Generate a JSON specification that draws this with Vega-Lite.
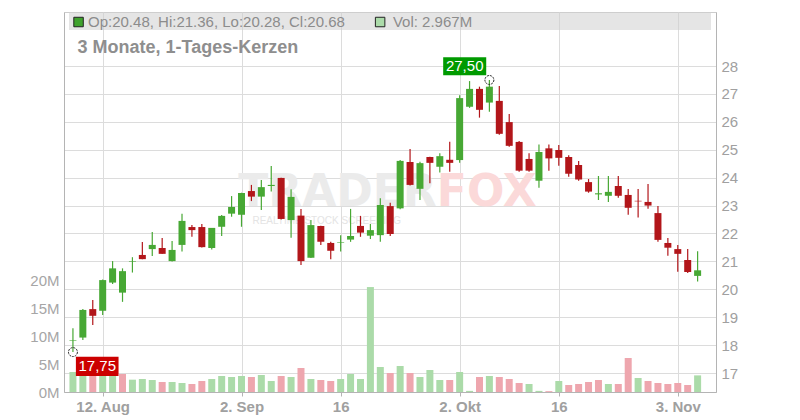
{
  "$schema": "https://vega.github.io/schema/vega-lite/v6.json",
  "width": 652,
  "height": 380,
  "autosize": {"type": "none"},
  "padding": {"left": 64, "top": 12, "right": 84, "bottom": 28},
  "background": "white",
  "config": {
    "font": "Liberation Sans",
    "view": {"stroke": "#cccccc"},
    "axis": {"gridColor": "#dcdcdc", "domainColor": "#b4b4b4", "tickColor": "#b4b4b4", "labelFont": "Liberation Sans"},
    "axisRight": {"labelOverlap": false, "labelFontSize": 15, "labelColor": "#a0a0a0", "labelPadding": 5, "ticks": false},
    "axisLeft": {"labelOverlap": false}
  },
  "data": {"values": [
    {"date": "2025-08-07", "i": 0, "o": 18.15, "h": 18.60, "l": 17.75, "c": 18.17, "v": 3570000},
    {"date": "2025-08-08", "i": 1, "o": 18.27, "h": 19.29, "l": 18.18, "c": 19.26, "v": 3600000},
    {"date": "2025-08-11", "i": 2, "o": 19.29, "h": 19.62, "l": 18.72, "c": 19.05, "v": 3600000},
    {"date": "2025-08-12", "i": 3, "o": 19.23, "h": 20.35, "l": 19.08, "c": 20.33, "v": 3600000},
    {"date": "2025-08-13", "i": 4, "o": 20.24, "h": 21.01, "l": 20.19, "c": 20.75, "v": 3600000},
    {"date": "2025-08-14", "i": 5, "o": 19.88, "h": 20.75, "l": 19.55, "c": 20.65, "v": 3210000},
    {"date": "2025-08-15", "i": 6, "o": 20.98, "h": 21.15, "l": 20.60, "c": 21.00, "v": 2200000},
    {"date": "2025-08-18", "i": 7, "o": 21.23, "h": 21.69, "l": 21.08, "c": 21.08, "v": 2320000},
    {"date": "2025-08-19", "i": 8, "o": 21.44, "h": 22.05, "l": 21.19, "c": 21.59, "v": 2140000},
    {"date": "2025-08-20", "i": 9, "o": 21.48, "h": 21.84, "l": 21.27, "c": 21.27, "v": 1790000},
    {"date": "2025-08-21", "i": 10, "o": 21.01, "h": 21.73, "l": 21.00, "c": 21.41, "v": 1790000},
    {"date": "2025-08-22", "i": 11, "o": 21.59, "h": 22.71, "l": 21.35, "c": 22.45, "v": 1610000},
    {"date": "2025-08-25", "i": 12, "o": 22.23, "h": 22.30, "l": 21.88, "c": 22.12, "v": 1430000},
    {"date": "2025-08-26", "i": 13, "o": 22.23, "h": 22.34, "l": 21.50, "c": 21.51, "v": 1960000},
    {"date": "2025-08-27", "i": 14, "o": 21.48, "h": 22.20, "l": 21.43, "c": 22.20, "v": 2320000},
    {"date": "2025-08-28", "i": 15, "o": 22.24, "h": 22.66, "l": 21.91, "c": 22.63, "v": 2860000},
    {"date": "2025-08-29", "i": 16, "o": 22.71, "h": 23.34, "l": 22.60, "c": 22.95, "v": 2680000},
    {"date": "2025-09-02", "i": 17, "o": 22.67, "h": 23.46, "l": 22.24, "c": 23.45, "v": 2860000},
    {"date": "2025-09-03", "i": 18, "o": 23.52, "h": 23.74, "l": 23.16, "c": 23.32, "v": 2680000},
    {"date": "2025-09-04", "i": 19, "o": 23.32, "h": 23.92, "l": 22.84, "c": 23.66, "v": 3040000},
    {"date": "2025-09-05", "i": 20, "o": 23.70, "h": 24.42, "l": 23.50, "c": 23.74, "v": 1960000},
    {"date": "2025-09-08", "i": 21, "o": 23.99, "h": 24.00, "l": 22.50, "c": 22.52, "v": 2860000},
    {"date": "2025-09-09", "i": 22, "o": 22.48, "h": 23.58, "l": 21.85, "c": 23.31, "v": 2680000},
    {"date": "2025-09-10", "i": 23, "o": 22.64, "h": 22.88, "l": 20.87, "c": 21.01, "v": 4290000},
    {"date": "2025-09-11", "i": 24, "o": 21.13, "h": 22.48, "l": 21.12, "c": 22.30, "v": 2320000},
    {"date": "2025-09-12", "i": 25, "o": 22.27, "h": 22.28, "l": 21.59, "c": 21.70, "v": 2140000},
    {"date": "2025-09-15", "i": 26, "o": 21.66, "h": 21.70, "l": 21.08, "c": 21.38, "v": 1960000},
    {"date": "2025-09-16", "i": 27, "o": 21.66, "h": 21.94, "l": 21.35, "c": 21.68, "v": 2320000},
    {"date": "2025-09-17", "i": 28, "o": 21.78, "h": 22.88, "l": 21.70, "c": 21.91, "v": 3210000},
    {"date": "2025-09-18", "i": 29, "o": 22.27, "h": 22.63, "l": 21.88, "c": 22.03, "v": 2320000},
    {"date": "2025-09-19", "i": 30, "o": 21.92, "h": 22.34, "l": 21.80, "c": 22.12, "v": 18740000},
    {"date": "2025-09-22", "i": 31, "o": 21.94, "h": 23.26, "l": 21.70, "c": 23.02, "v": 4460000},
    {"date": "2025-09-23", "i": 32, "o": 22.98, "h": 23.10, "l": 21.91, "c": 21.98, "v": 3390000},
    {"date": "2025-09-24", "i": 33, "o": 22.90, "h": 24.63, "l": 22.87, "c": 24.60, "v": 4640000},
    {"date": "2025-09-25", "i": 34, "o": 24.56, "h": 25.03, "l": 23.72, "c": 23.74, "v": 3390000},
    {"date": "2025-09-26", "i": 35, "o": 23.60, "h": 24.57, "l": 23.20, "c": 24.52, "v": 2680000},
    {"date": "2025-09-29", "i": 36, "o": 24.74, "h": 24.75, "l": 23.80, "c": 24.53, "v": 3930000},
    {"date": "2025-09-30", "i": 37, "o": 24.39, "h": 24.87, "l": 24.18, "c": 24.77, "v": 2140000},
    {"date": "2025-10-01", "i": 38, "o": 24.64, "h": 25.29, "l": 24.21, "c": 24.53, "v": 2140000},
    {"date": "2025-10-02", "i": 39, "o": 24.63, "h": 26.95, "l": 24.53, "c": 26.85, "v": 3570000},
    {"date": "2025-10-03", "i": 40, "o": 26.54, "h": 27.46, "l": 26.50, "c": 27.18, "v": 200000},
    {"date": "2025-10-06", "i": 41, "o": 27.18, "h": 27.26, "l": 26.15, "c": 26.43, "v": 2680000},
    {"date": "2025-10-07", "i": 42, "o": 26.69, "h": 27.50, "l": 26.36, "c": 27.26, "v": 2860000},
    {"date": "2025-10-08", "i": 43, "o": 26.75, "h": 27.28, "l": 25.54, "c": 25.57, "v": 2680000},
    {"date": "2025-10-09", "i": 44, "o": 25.99, "h": 26.28, "l": 25.11, "c": 25.14, "v": 2320000},
    {"date": "2025-10-10", "i": 45, "o": 25.28, "h": 25.31, "l": 24.21, "c": 24.25, "v": 1610000},
    {"date": "2025-10-13", "i": 46, "o": 24.67, "h": 24.87, "l": 24.21, "c": 24.25, "v": 1430000},
    {"date": "2025-10-14", "i": 47, "o": 23.89, "h": 25.19, "l": 23.64, "c": 24.92, "v": 200000},
    {"date": "2025-10-15", "i": 48, "o": 25.05, "h": 25.19, "l": 24.25, "c": 24.69, "v": 150000},
    {"date": "2025-10-16", "i": 49, "o": 24.99, "h": 25.17, "l": 24.43, "c": 24.71, "v": 1960000},
    {"date": "2025-10-17", "i": 50, "o": 24.74, "h": 24.80, "l": 24.03, "c": 24.14, "v": 1250000},
    {"date": "2025-10-20", "i": 51, "o": 24.45, "h": 24.60, "l": 23.89, "c": 23.93, "v": 1430000},
    {"date": "2025-10-21", "i": 52, "o": 23.84, "h": 23.95, "l": 23.46, "c": 23.50, "v": 1790000},
    {"date": "2025-10-22", "i": 53, "o": 23.40, "h": 24.06, "l": 23.20, "c": 23.44, "v": 2140000},
    {"date": "2025-10-23", "i": 54, "o": 23.35, "h": 24.06, "l": 23.13, "c": 23.49, "v": 1430000},
    {"date": "2025-10-24", "i": 55, "o": 23.70, "h": 24.06, "l": 23.28, "c": 23.35, "v": 1430000},
    {"date": "2025-10-27", "i": 56, "o": 23.38, "h": 23.59, "l": 22.67, "c": 22.92, "v": 6070000},
    {"date": "2025-10-28", "i": 57, "o": 23.17, "h": 23.59, "l": 22.57, "c": 23.15, "v": 2500000},
    {"date": "2025-10-29", "i": 58, "o": 23.13, "h": 23.77, "l": 22.89, "c": 23.00, "v": 1960000},
    {"date": "2025-10-30", "i": 59, "o": 22.73, "h": 22.98, "l": 21.70, "c": 21.77, "v": 1610000},
    {"date": "2025-10-31", "i": 60, "o": 21.66, "h": 21.84, "l": 21.20, "c": 21.49, "v": 1430000},
    {"date": "2025-11-03", "i": 61, "o": 21.44, "h": 21.59, "l": 20.63, "c": 21.27, "v": 1610000},
    {"date": "2025-11-04", "i": 62, "o": 21.05, "h": 21.44, "l": 20.58, "c": 20.62, "v": 1250000},
    {"date": "2025-11-05", "i": 63, "o": 20.48, "h": 21.36, "l": 20.28, "c": 20.68, "v": 2967000}
  ]},
  "layer": [
    {
      "transform": [{"window": [{"op": "lag", "field": "c", "as": "pc"}], "sort": [{"field": "i", "order": "ascending"}]}],
      "mark": {"type": "bar", "size": 7, "orient": "vertical"},
      "encoding": {
        "x": {"field": "i", "type": "quantitative", "scale": {"domain": [-0.397, 64.35], "nice": false, "zero": false},
          "axis": {"values": [3, 17, 27, 39, 49, 61], "title": null, "grid": true, "tickSize": 4, "labelFontWeight": "bold", "labelFontSize": 15, "labelColor": "#a0a0a0", "labelPadding": 3, "labelFlush": false, "labelOverlap": false,
            "labelExpr": "datum.value == 3 ? '12. Aug' : datum.value == 17 ? '2. Sep' : datum.value == 27 ? '16' : datum.value == 39 ? '2. Okt' : datum.value == 49 ? '16' : '3. Nov'"}},
        "y": {"field": "v", "type": "quantitative", "scale": {"domain": [0, 67857143], "nice": false},
          "axis": {"orient": "left", "title": null, "values": [0, 5000000, 10000000, 15000000, 20000000], "labelExpr": "(datum.value / 1000000) + 'M'", "grid": false, "ticks": false, "labelPadding": 5, "labelFontSize": 15, "labelColor": "#a6a6a6", "labelOverlap": false}},
        "color": {"condition": {"test": "datum.pc == null || datum.c >= datum.pc", "value": "#abdba9"}, "value": "#eea6ae"}
      }
    },
    {
      "layer": [
        {
          "data": {"values": [{}]},
          "mark": {"type": "text", "text": "TRADER", "font": "DejaVu Sans", "fontWeight": "bold", "fontSize": 44, "color": "#ebebeb", "align": "left", "baseline": "alphabetic"},
          "encoding": {
            "x": {"datum": 16.68, "type": "quantitative", "scale": {"domain": [-0.397, 64.35], "nice": false, "zero": false}},
            "y": {"datum": 22.97, "type": "quantitative", "scale": {"domain": [16.32, 29.935], "nice": false, "zero": false}, "axis": {"orient": "right", "title": null, "values": [17, 18, 19, 20, 21, 22, 23, 24, 25, 26, 27, 28], "grid": true, "labelOverlap": false}}
          }
        },
        {
          "data": {"values": [{}]},
          "mark": {"type": "text", "text": "FOX", "font": "DejaVu Sans", "fontWeight": "bold", "fontSize": 44, "color": "#fbd9d9", "align": "left", "baseline": "alphabetic"},
          "encoding": {
            "x": {"datum": 36.7, "type": "quantitative", "scale": {"domain": [-0.397, 64.35], "nice": false, "zero": false}},
            "y": {"datum": 22.97, "type": "quantitative", "scale": {"domain": [16.32, 29.935], "nice": false, "zero": false}, "axis": {"orient": "right", "title": null, "values": [17, 18, 19, 20, 21, 22, 23, 24, 25, 26, 27, 28], "grid": true, "labelOverlap": false}}
          }
        },
        {
          "data": {"values": [{}]},
          "mark": {"type": "text", "text": "REALTIME STOCK SCREENING", "fontSize": 10, "color": "#e4e4e4", "align": "left", "baseline": "middle"},
          "encoding": {
            "x": {"datum": 18.1, "type": "quantitative", "scale": {"domain": [-0.397, 64.35], "nice": false, "zero": false}},
            "y": {"datum": 22.45, "type": "quantitative", "scale": {"domain": [16.32, 29.935], "nice": false, "zero": false}, "axis": {"orient": "right", "title": null, "values": [17, 18, 19, 20, 21, 22, 23, 24, 25, 26, 27, 28], "grid": true, "labelOverlap": false}}
          }
        },
        {
          "data": {"values": [{}]},
          "mark": {"type": "rect", "color": "#d0d0d0", "opacity": 0.55},
          "encoding": {
            "x": {"datum": -0.397, "type": "quantitative", "scale": {"domain": [-0.397, 64.35], "nice": false, "zero": false}},
            "x2": {"datum": 64.35},
            "y": {"datum": 29.29, "type": "quantitative", "scale": {"domain": [16.32, 29.935], "nice": false, "zero": false}, "axis": {"orient": "right", "title": null, "values": [17, 18, 19, 20, 21, 22, 23, 24, 25, 26, 27, 28], "grid": true, "labelOverlap": false}},
            "y2": {"datum": 29.935}
          }
        },
        {
          "mark": {"type": "rule", "strokeWidth": 1.2},
          "encoding": {
            "x": {"field": "i", "type": "quantitative", "scale": {"domain": [-0.397, 64.35], "nice": false, "zero": false}},
            "y": {"field": "l", "type": "quantitative", "scale": {"domain": [16.32, 29.935], "nice": false, "zero": false},
              "axis": {"orient": "right", "title": null, "values": [17, 18, 19, 20, 21, 22, 23, 24, 25, 26, 27, 28], "grid": true, "labelOverlap": false}},
            "y2": {"field": "h"},
            "color": {"condition": {"test": "datum.c >= datum.o", "value": "#47a834"}, "value": "#b2161a"}
          }
        },
        {
          "mark": {"type": "bar", "size": 7, "orient": "vertical", "minBandSize": 1.5},
          "encoding": {
            "x": {"field": "i", "type": "quantitative", "scale": {"domain": [-0.397, 64.35], "nice": false, "zero": false}},
            "y": {"field": "o", "type": "quantitative", "scale": {"domain": [16.32, 29.935], "nice": false, "zero": false},
              "axis": {"orient": "right", "title": null, "values": [17, 18, 19, 20, 21, 22, 23, 24, 25, 26, 27, 28], "grid": true, "labelOverlap": false}},
            "y2": {"field": "c"},
            "color": {"condition": {"test": "datum.c >= datum.o", "value": "#47a834"}, "value": "#b2161a"}
          }
        },
        {
          "data": {"values": [{}]},
          "mark": {"type": "point", "shape": "square", "filled": true, "size": 90, "fill": "#3fa22d", "stroke": "#222222", "strokeWidth": 1, "opacity": 1},
          "encoding": {
            "x": {"datum": 0.566, "type": "quantitative", "scale": {"domain": [-0.397, 64.35], "nice": false, "zero": false}},
            "y": {"datum": 29.576, "type": "quantitative", "scale": {"domain": [16.32, 29.935], "nice": false, "zero": false}, "axis": {"orient": "right", "title": null, "values": [17, 18, 19, 20, 21, 22, 23, 24, 25, 26, 27, 28], "grid": true, "labelOverlap": false}}
          }
        },
        {
          "data": {"values": [{}]},
          "mark": {"type": "point", "shape": "square", "filled": true, "size": 90, "fill": "#abdba9", "stroke": "#222222", "strokeWidth": 1, "opacity": 1},
          "encoding": {
            "x": {"datum": 30.98, "type": "quantitative", "scale": {"domain": [-0.397, 64.35], "nice": false, "zero": false}},
            "y": {"datum": 29.576, "type": "quantitative", "scale": {"domain": [16.32, 29.935], "nice": false, "zero": false}, "axis": {"orient": "right", "title": null, "values": [17, 18, 19, 20, 21, 22, 23, 24, 25, 26, 27, 28], "grid": true, "labelOverlap": false}}
          }
        },
        {
          "data": {"values": [{}]},
          "mark": {"type": "text", "text": "Op:20.48, Hi:21.36, Lo:20.28, Cl:20.68", "fontSize": 15, "color": "#8c8c8c", "align": "left", "baseline": "middle"},
          "encoding": {
            "x": {"datum": 1.52, "type": "quantitative", "scale": {"domain": [-0.397, 64.35], "nice": false, "zero": false}},
            "y": {"datum": 29.576, "type": "quantitative", "scale": {"domain": [16.32, 29.935], "nice": false, "zero": false}, "axis": {"orient": "right", "title": null, "values": [17, 18, 19, 20, 21, 22, 23, 24, 25, 26, 27, 28], "grid": true, "labelOverlap": false}}
          }
        },
        {
          "data": {"values": [{}]},
          "mark": {"type": "text", "text": "Vol: 2.967M", "fontSize": 15, "color": "#8c8c8c", "align": "left", "baseline": "middle"},
          "encoding": {
            "x": {"datum": 32.27, "type": "quantitative", "scale": {"domain": [-0.397, 64.35], "nice": false, "zero": false}},
            "y": {"datum": 29.576, "type": "quantitative", "scale": {"domain": [16.32, 29.935], "nice": false, "zero": false}, "axis": {"orient": "right", "title": null, "values": [17, 18, 19, 20, 21, 22, 23, 24, 25, 26, 27, 28], "grid": true, "labelOverlap": false}}
          }
        },
        {
          "data": {"values": [{}]},
          "mark": {"type": "text", "text": "3 Monate, 1-Tages-Kerzen", "fontSize": 18, "fontWeight": "bold", "color": "#8e8e8e", "align": "left", "baseline": "middle"},
          "encoding": {
            "x": {"datum": 0.467, "type": "quantitative", "scale": {"domain": [-0.397, 64.35], "nice": false, "zero": false}},
            "y": {"datum": 28.645, "type": "quantitative", "scale": {"domain": [16.32, 29.935], "nice": false, "zero": false}, "axis": {"orient": "right", "title": null, "values": [17, 18, 19, 20, 21, 22, 23, 24, 25, 26, 27, 28], "grid": true, "labelOverlap": false}}
          }
        },
        {
          "data": {"values": [{}]},
          "mark": {"type": "rect", "color": "#cc0000"},
          "encoding": {
            "x": {"datum": 0.298, "type": "quantitative", "scale": {"domain": [-0.397, 64.35], "nice": false, "zero": false}},
            "x2": {"datum": 4.6},
            "y": {"datum": 17.584, "type": "quantitative", "scale": {"domain": [16.32, 29.935], "nice": false, "zero": false}, "axis": {"orient": "right", "title": null, "values": [17, 18, 19, 20, 21, 22, 23, 24, 25, 26, 27, 28], "grid": true, "labelOverlap": false}},
            "y2": {"datum": 16.893}
          }
        },
        {
          "data": {"values": [{}]},
          "mark": {"type": "rect", "color": "#009a00"},
          "encoding": {
            "x": {"datum": 37.34, "type": "quantitative", "scale": {"domain": [-0.397, 64.35], "nice": false, "zero": false}},
            "x2": {"datum": 41.68},
            "y": {"datum": 28.31, "type": "quantitative", "scale": {"domain": [16.32, 29.935], "nice": false, "zero": false}, "axis": {"orient": "right", "title": null, "values": [17, 18, 19, 20, 21, 22, 23, 24, 25, 26, 27, 28], "grid": true, "labelOverlap": false}},
            "y2": {"datum": 27.667}
          }
        },
        {
          "data": {"values": [{}]},
          "mark": {"type": "text", "text": "17,75", "fontSize": 15, "color": "white", "align": "center", "baseline": "middle"},
          "encoding": {
            "x": {"datum": 2.45, "type": "quantitative", "scale": {"domain": [-0.397, 64.35], "nice": false, "zero": false}},
            "y": {"datum": 17.24, "type": "quantitative", "scale": {"domain": [16.32, 29.935], "nice": false, "zero": false}, "axis": {"orient": "right", "title": null, "values": [17, 18, 19, 20, 21, 22, 23, 24, 25, 26, 27, 28], "grid": true, "labelOverlap": false}}
          }
        },
        {
          "data": {"values": [{}]},
          "mark": {"type": "text", "text": "27,50", "fontSize": 15, "color": "white", "align": "center", "baseline": "middle"},
          "encoding": {
            "x": {"datum": 39.51, "type": "quantitative", "scale": {"domain": [-0.397, 64.35], "nice": false, "zero": false}},
            "y": {"datum": 27.99, "type": "quantitative", "scale": {"domain": [16.32, 29.935], "nice": false, "zero": false}, "axis": {"orient": "right", "title": null, "values": [17, 18, 19, 20, 21, 22, 23, 24, 25, 26, 27, 28], "grid": true, "labelOverlap": false}}
          }
        },
        {
          "data": {"values": [{}]},
          "mark": {"type": "point", "shape": "circle", "filled": false, "size": 80, "stroke": "#222222", "strokeWidth": 1, "strokeDash": [2, 1], "opacity": 1},
          "encoding": {
            "x": {"datum": 0, "type": "quantitative", "scale": {"domain": [-0.397, 64.35], "nice": false, "zero": false}},
            "y": {"datum": 17.75, "type": "quantitative", "scale": {"domain": [16.32, 29.935], "nice": false, "zero": false}, "axis": {"orient": "right", "title": null, "values": [17, 18, 19, 20, 21, 22, 23, 24, 25, 26, 27, 28], "grid": true, "labelOverlap": false}}
          }
        },
        {
          "data": {"values": [{}]},
          "mark": {"type": "point", "shape": "circle", "filled": false, "size": 80, "stroke": "#222222", "strokeWidth": 1, "strokeDash": [2, 1], "opacity": 1},
          "encoding": {
            "x": {"datum": 42, "type": "quantitative", "scale": {"domain": [-0.397, 64.35], "nice": false, "zero": false}},
            "y": {"datum": 27.5, "type": "quantitative", "scale": {"domain": [16.32, 29.935], "nice": false, "zero": false}, "axis": {"orient": "right", "title": null, "values": [17, 18, 19, 20, 21, 22, 23, 24, 25, 26, 27, 28], "grid": true, "labelOverlap": false}}
          }
        }
      ]
    }
  ],
  "resolve": {"scale": {"y": "independent"}}
}
